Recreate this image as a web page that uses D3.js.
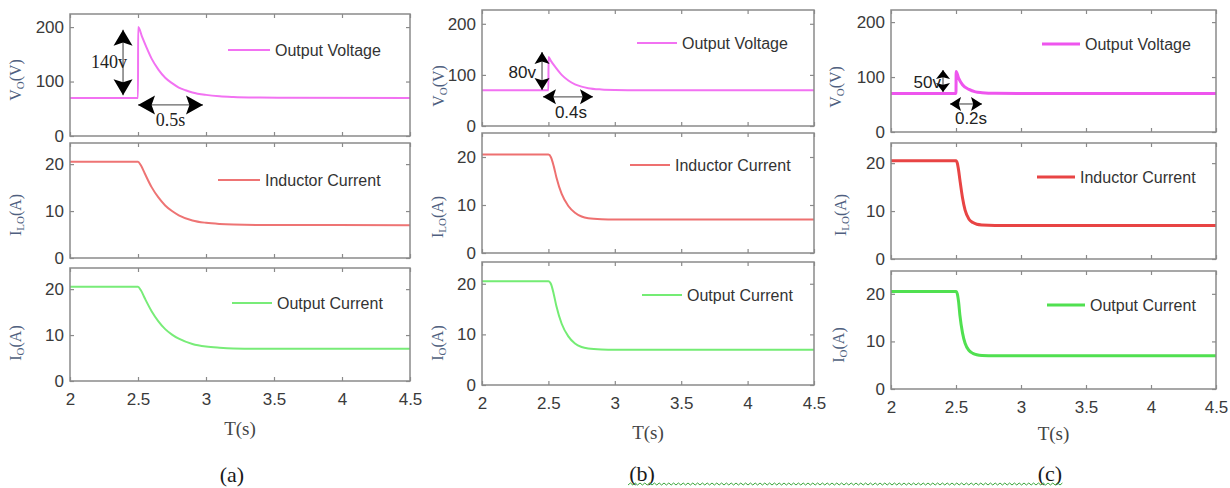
<!DOCTYPE html>
<html><head><meta charset="utf-8">
<script src="https://cdn.jsdelivr.net/npm/d3@7"></script>
<style>body{margin:0;background:#fff}svg{display:block}</style>
</head><body><svg id="chart" width="1230" height="488"></svg>
<script>
// ---------------- data ----------------
const xTickValues = [2, 2.5, 3, 3.5, 4, 4.5];
const xTickLabels = ["2", "2.5", "3", "3.5", "4", "4.5"];
const voltageTicks = [0, 100, 200];
const currentTicks = [0, 10, 20];
const seriesNames = ["Output Voltage", "Inductor Current", "Output Current"];
const captions = ["(a)", "(b)", "(c)"];
const overshootLabels = ["140v", "80v", "50v"];
const settleLabels = ["0.5s", "0.4s", "0.2s"];

// (a)
const timeVoltA = [2, 2.5, 2.501, 2.53, 2.56, 2.6, 2.65, 2.7, 2.75, 2.8, 2.85, 2.9, 3.0, 3.1, 3.2, 3.4, 3.6, 4.5];
const voltA     = [70, 70, 200, 182, 164, 142, 122, 107, 97, 89, 84, 80, 75.5, 73, 71.7, 70.6, 70.2, 70];
const timeCurA  = [2, 2.5, 2.52, 2.55, 2.6, 2.65, 2.7, 2.75, 2.8, 2.9, 3.0, 3.1, 3.2, 3.4, 4.5];
const indCurA   = [20.5, 20.5, 19.8, 18.0, 15.1, 12.9, 11.2, 10.0, 9.1, 8.0, 7.5, 7.25, 7.12, 7.03, 7.0];
const outCurA   = [20.5, 20.5, 19.8, 18.0, 15.2, 13.0, 11.3, 10.1, 9.2, 8.05, 7.5, 7.25, 7.1, 7.02, 7.0];
// (b)
const timeVoltB = [2, 2.5, 2.501, 2.52, 2.55, 2.6, 2.65, 2.7, 2.75, 2.8, 2.9, 3.0, 3.2, 4.5];
const voltB     = [70, 70, 135, 127, 116, 100, 89, 81.5, 77, 74, 71.5, 70.6, 70.1, 70];
const timeCurB  = [2, 2.5, 2.52, 2.54, 2.56, 2.6, 2.65, 2.7, 2.75, 2.8, 2.9, 3.0, 4.5];
const indCurB   = [20.5, 20.5, 19.9, 18.1, 15.8, 12.3, 9.8, 8.4, 7.6, 7.25, 7.05, 7.0, 7.0];
const outCurB   = [20.5, 20.5, 19.9, 18.0, 15.6, 12.1, 9.6, 8.2, 7.5, 7.2, 7.0, 6.95, 6.95];
// (c)
const timeVoltC = [2, 2.5, 2.501, 2.52, 2.55, 2.6, 2.65, 2.7, 2.8, 4.5];
const voltC     = [70, 70, 110, 98, 86, 77.5, 73, 71.5, 70.3, 70];
const timeCurC  = [2, 2.5, 2.51, 2.52, 2.53, 2.55, 2.57, 2.6, 2.63, 2.66, 2.7, 2.8, 4.5];
const indCurC   = [20.5, 20.5, 20.0, 18.5, 16.5, 12.8, 10.2, 8.3, 7.6, 7.25, 7.1, 7.0, 7.0];
const outCurC   = [20.5, 20.5, 20.0, 18.3, 15.5, 11.8, 9.6, 8.1, 7.5, 7.2, 7.05, 7.0, 7.0];

// ---------------- layout ----------------
const lineColors = [
  ["#f272f2", "#ee7474", "#78ec78"],
  ["#f272f2", "#ee7070", "#74ec74"],
  ["#ee55ee", "#e84444", "#50e050"]
];
const columns = [
  { x0: 70, x1: 410, sw: 2,
    panels: [{ y0: 14, y1: 136, max: 224 }, { y0: 143, y1: 258, max: 24.5 }, { y0: 268, y1: 381, max: 24.6 }],
    series: [[timeVoltA, voltA], [timeCurA, indCurA], [timeCurA, outCurA]],
    legends: [[228, 50, 42], [218, 180, 42], [232, 303, 40]],
    ylab: [[15, 80], [15, 215], [15, 343]],
    xlabY: 428, capPos: [232, 482],
    vArrow: { t: 2.39, v0: 75, v1: 195, head: 16, hw: 9.5 }, hArrow: { t0: 2.5, t1: 2.978, v: 57, head: 17, hw: 9.5 },
    annoFont: "'Liberation Serif', 'Times New Roman', serif", annoSize: 18,
    vLab: [4, 6], hLab: [0, 21] },
  { x0: 482, x1: 814, sw: 2,
    panels: [{ y0: 10, y1: 126, max: 227 }, { y0: 133, y1: 253, max: 25 }, { y0: 262, y1: 385, max: 24.3 }],
    series: [[timeVoltB, voltB], [timeCurB, indCurB], [timeCurB, outCurB]],
    legends: [[637, 43, 40], [630, 165, 40], [642, 295, 40]],
    ylab: [[438, 86], [437, 217], [437, 343]],
    xlabY: 432, capPos: [642, 481],
    vArrow: { t: 2.452, v0: 70.5, v1: 145, head: 12, hw: 7.5 }, hArrow: { t0: 2.459, t1: 2.836, v: 57, head: 13, hw: 7.5 },
    annoFont: "'Liberation Sans', Arial, sans-serif", annoSize: 17,
    vLab: [-6, 7], hLab: [3, 21] },
  { x0: 891, x1: 1216, sw: 3,
    panels: [{ y0: 10, y1: 132, max: 222 }, { y0: 143, y1: 259, max: 24.2 }, { y0: 271, y1: 389, max: 24.8 }],
    series: [[timeVoltC, voltC], [timeCurC, indCurC], [timeCurC, outCurC]],
    legends: [[1042, 44, 38], [1037, 177, 38], [1047, 305, 38]],
    ylab: [[835, 87], [840, 215], [838, 345]],
    xlabY: 433, capPos: [1050, 481],
    vArrow: { t: 2.4, v0: 72.8, v1: 112.8, head: 9, hw: 7 }, hArrow: { t0: 2.454, t1: 2.7, v: 51, head: 11, hw: 7 },
    annoFont: "'Liberation Sans', Arial, sans-serif", annoSize: 17,
    vLab: [-2, 7], hLab: [5, 20] }
];

const svg = d3.select("#chart");
const sans = "'Liberation Sans', Arial, sans-serif";
const serif = "'Liberation Serif', 'Times New Roman', serif";
const frameColor = "#8a8a8a";

function arrowHead(g, tip, dir, len, hw) {
  const bx = tip[0] - dir[0] * len, by = tip[1] - dir[1] * len;
  const px = -dir[1], py = dir[0];
  g.append("path")
    .attr("d", `M${tip[0]},${tip[1]}L${bx + px * hw},${by + py * hw}L${bx + dir[0]*len*0.2},${by + dir[1]*len*0.2}L${bx - px * hw},${by - py * hw}Z`)
    .attr("fill", "#000");
}
function doubleArrow(g, p0, p1, len, hw) {
  g.append("line").attr("x1", p0[0]).attr("y1", p0[1]).attr("x2", p1[0]).attr("y2", p1[1])
    .attr("stroke", "#666").attr("stroke-width", 1.3);
  const dx = p1[0] - p0[0], dy = p1[1] - p0[1], d = Math.hypot(dx, dy);
  const u = [dx / d, dy / d];
  arrowHead(g, p1, u, len, hw);
  arrowHead(g, p0, [-u[0], -u[1]], len, hw);
}

columns.forEach((col, ci) => {
  const x = d3.scaleLinear().domain([2, 4.5]).range([col.x0, col.x1]);
  col.panels.forEach((p, pi) => {
    const y = d3.scaleLinear().domain([0, p.max]).range([p.y1, p.y0]);
    const g = svg.append("g");
    const ticks = pi === 0 ? voltageTicks : currentTicks;
    const [ts, vs] = col.series[pi];
    const pts = ts.map((t, i) => [t, vs[i]]);
    g.append("path").datum(pts)
      .attr("d", d3.line().x(d => x(d[0])).y(d => y(d[1])).curve(d3.curveMonotoneX))
      .attr("fill", "none").attr("stroke", lineColors[ci][pi]).attr("stroke-width", col.sw)
      .attr("stroke-linejoin", "round");
    const tl = 4;
    const axL = d3.axisLeft(y).tickValues(ticks).tickSize(-tl).tickPadding(6).tickFormat(d3.format("d"));
    const axR = d3.axisRight(y).tickValues(ticks).tickSize(-tl).tickFormat("");
    const axB = d3.axisBottom(x).tickValues(xTickValues).tickSize(-tl).tickPadding(12)
      .tickFormat((d, i) => pi === 2 ? xTickLabels[i] : "");
    const axT = d3.axisTop(x).tickValues(xTickValues).tickSize(-tl).tickFormat("");
    [[axL, `translate(${col.x0},0)`], [axR, `translate(${col.x1},0)`],
     [axB, `translate(0,${p.y1})`], [axT, `translate(0,${p.y0})`]].forEach(([ax, tr]) => {
      const a = g.append("g").attr("transform", tr).call(ax);
      a.select(".domain").remove();
      a.selectAll(".tick line").attr("stroke", frameColor).attr("stroke-width", 1.2);
      a.selectAll(".tick text").attr("fill", "#3a3a3a").style("font-family", sans).style("font-size", "17px");
    });
    g.append("rect").attr("x", col.x0).attr("y", p.y0).attr("width", col.x1 - col.x0).attr("height", p.y1 - p.y0)
      .attr("fill", "none").attr("stroke", frameColor).attr("stroke-width", 1.5);
    const [lx, ly, ll] = col.legends[pi];
    g.append("line").attr("x1", lx).attr("x2", lx + ll).attr("y1", ly).attr("y2", ly)
      .attr("stroke", lineColors[ci][pi]).attr("stroke-width", col.sw);
    g.append("text").attr("x", lx + ll + 5).attr("y", ly).attr("dy", "0.35em")
      .style("font-family", sans).style("font-size", "16px").attr("fill", "#333")
      .text(seriesNames[pi]);
    const [yx, yy] = col.ylab[pi];
    const t = g.append("text").attr("transform", `translate(${yx},${yy}) rotate(-90)`)
      .attr("text-anchor", "middle").attr("dy", "0.35em")
      .style("font-family", serif).style("font-size", "16px").attr("fill", "#4f5f80");
    const main = pi === 0 ? "V" : "I";
    const sub = pi === 1 ? "LO" : "O";
    const unit = pi === 0 ? "(V)" : "(A)";
    t.append("tspan").text(main);
    t.append("tspan").attr("dy", 3).style("font-size", "11px").text(sub);
    t.append("tspan").attr("dy", -3).text(unit);

    if (pi === 0) {
      const va = col.vArrow, ha = col.hArrow;
      const vp0 = [x(va.t), y(va.v0)], vp1 = [x(va.t), y(va.v1)];
      doubleArrow(g, vp0, vp1, va.head, va.hw);
      const hp0 = [x(ha.t0), y(ha.v)], hp1 = [x(ha.t1), y(ha.v)];
      doubleArrow(g, hp0, hp1, ha.head, ha.hw);
      g.append("text").attr("x", vp0[0] + col.vLab[0]).attr("y", (vp0[1] + vp1[1]) / 2 + col.vLab[1])
        .attr("text-anchor", "end").style("font-family", col.annoFont).style("font-size", col.annoSize + "px")
        .attr("fill", "#222").text(overshootLabels[ci]);
      g.append("text").attr("x", (hp0[0] + hp1[0]) / 2 + col.hLab[0]).attr("y", hp0[1] + col.hLab[1])
        .attr("text-anchor", "middle").style("font-family", col.annoFont).style("font-size", col.annoSize + "px")
        .attr("fill", "#222").text(settleLabels[ci]);
    }
  });
  svg.append("text").attr("x", (col.x0 + col.x1) / 2).attr("y", col.xlabY).attr("dy", "0.35em")
    .attr("text-anchor", "middle").style("font-family", serif).style("font-size", "19px").attr("fill", "#444")
    .text("T(s)");
  svg.append("text").attr("x", col.capPos[0]).attr("y", col.capPos[1])
    .attr("text-anchor", "middle").style("font-family", serif).style("font-size", "22px").attr("fill", "#1a1a1a")
    .text(captions[ci]);
});

(function () {
  const x0 = 628, x1 = 1063, yb = 485, step = 2.4;
  let d = `M${x0},${yb}`;
  let k = 0;
  for (let xx = x0 + step; xx <= x1; xx += step) { k++; d += `L${xx},${yb + (k % 2 ? -2 : 0)}`; }
  svg.append("path").attr("d", d).attr("fill", "none").attr("stroke", "#3aa63a").attr("stroke-width", 1);
})();
</script></body></html>
